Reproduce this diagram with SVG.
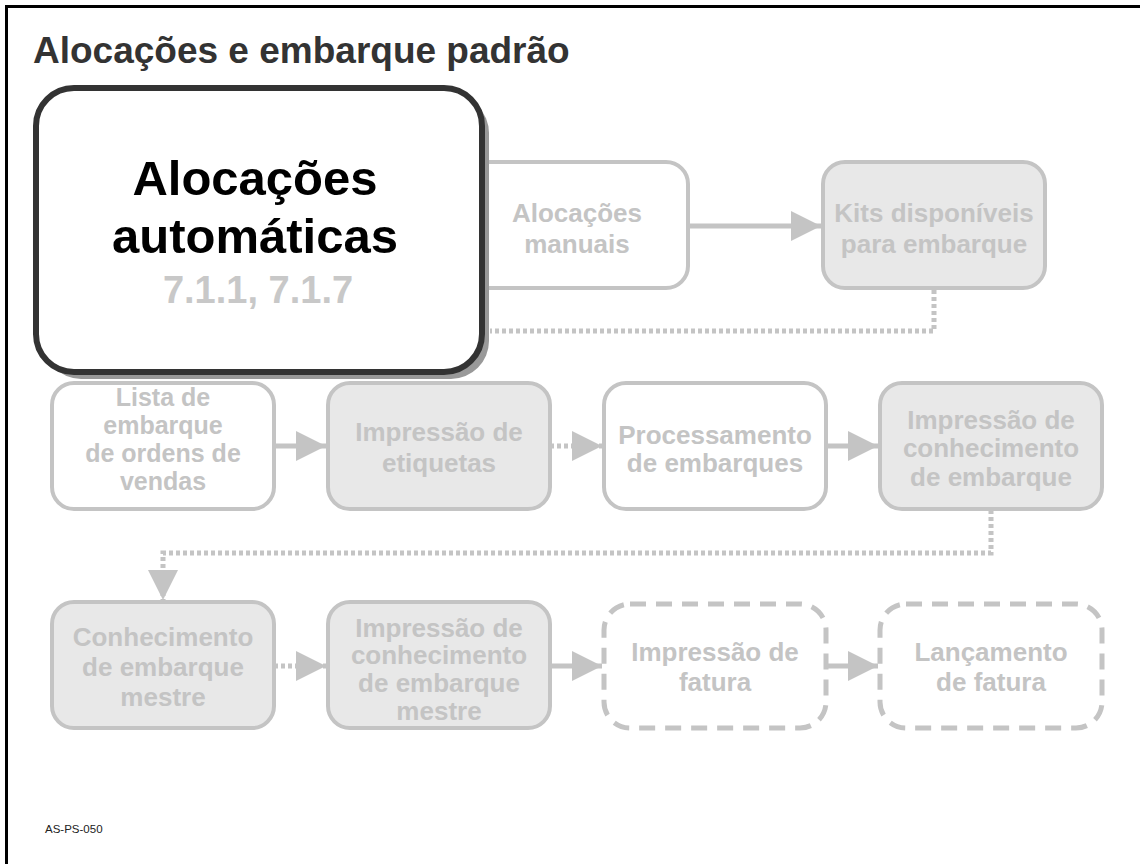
<svg xmlns="http://www.w3.org/2000/svg" width="1140" height="864" viewBox="0 0 1140 864">
<style>
.box{stroke:#c4c4c4;stroke-width:4;fill:#fff}
.gbox{stroke:#c4c4c4;stroke-width:4;fill:#e8e8e8}
.dbox{stroke:#c4c4c4;stroke-width:5;fill:#fff;stroke-dasharray:16 10}
.t{font-family:"Liberation Sans",Arial,sans-serif;font-weight:bold;font-size:26px;fill:#c4c4c4;text-anchor:middle}
.s{font-size:25px}
.c{stroke:#c4c4c4;stroke-width:5;fill:none}
.d{stroke:#c4c4c4;stroke-width:5;fill:none;stroke-dasharray:4 3}
</style>
<defs>
<marker id="ah" markerWidth="6" markerHeight="6" viewBox="0 0 10 10" refX="10" refY="5" orient="auto" markerUnits="strokeWidth">
<path d="M0,0 L10,5 L0,10 Z" fill="#c4c4c4"/>
</marker>
</defs>
<rect width="1140" height="864" fill="#fff"/>
<path d="M6.5,864 V6.5 H1140" stroke="#000" stroke-width="3" fill="none"/>
<text x="33" y="63" font-family="Liberation Sans,Arial,sans-serif" font-weight="bold" font-size="37" fill="#333">Alocações e embarque padrão</text>

<g id="connectors">
<path class="c" d="M688,226 H821" marker-end="url(#ah)"/>
<path class="d" d="M934,290 V331 H490"/>
<path class="c" d="M274,446 H326" marker-end="url(#ah)"/>
<path class="d" d="M550,446 H602" marker-end="url(#ah)"/>
<path class="c" d="M826,446 H878" marker-end="url(#ah)"/>
<path class="d" d="M991,510 V553 H163 V600" marker-end="url(#ah)"/>
<path class="d" d="M274,666 H326" marker-end="url(#ah)"/>
<path class="c" d="M550,666 H602" marker-end="url(#ah)"/>
<path class="c" d="M826,666 H878" marker-end="url(#ah)"/>
</g>

<g id="n-manuais">
<rect class="box" x="466" y="162" width="222" height="126" rx="22"/>
<text class="t" x="577" y="222">Alocações</text>
<text class="t" x="577" y="253">manuais</text>
</g>
<g id="n-kits">
<rect class="gbox" x="823" y="162" width="222" height="126" rx="22"/>
<text class="t" x="934" y="222">Kits disponíveis</text>
<text class="t" x="934" y="253">para embarque</text>
</g>

<g id="n-auto">
<rect x="43" y="95" width="446" height="284" rx="38" fill="#999"/>
<rect x="36" y="88" width="446" height="284" rx="38" fill="#fff" stroke="#333" stroke-width="6"/>
<text x="255" y="195" font-family="Liberation Sans,Arial,sans-serif" font-weight="bold" font-size="49" fill="#000" text-anchor="middle">Alocações</text>
<text x="255" y="253" font-family="Liberation Sans,Arial,sans-serif" font-weight="bold" font-size="49" fill="#000" text-anchor="middle">automáticas</text>
<text x="258" y="303" font-family="Liberation Sans,Arial,sans-serif" font-weight="bold" font-size="38" fill="#c8c8c8" text-anchor="middle">7.1.1, 7.1.7</text>
</g>

<g id="n-lista">
<rect class="box" x="52" y="383" width="222" height="126" rx="22"/>
<text class="t s" x="163" y="406">Lista de</text>
<text class="t s" x="163" y="434">embarque</text>
<text class="t s" x="163" y="462">de ordens de</text>
<text class="t s" x="163" y="490">vendas</text>
</g>
<g id="n-etiquetas">
<rect class="gbox" x="328" y="383" width="222" height="126" rx="22"/>
<text class="t" x="439" y="441">Impressão de</text>
<text class="t" x="439" y="472">etiquetas</text>
</g>
<g id="n-proc">
<rect class="box" x="604" y="383" width="222" height="126" rx="22"/>
<text class="t" x="715" y="444">Processamento</text>
<text class="t" x="715" y="472">de embarques</text>
</g>
<g id="n-conh">
<rect class="gbox" x="880" y="383" width="222" height="126" rx="22"/>
<text class="t" x="991" y="429">Impressão de</text>
<text class="t" x="991" y="457">conhecimento</text>
<text class="t" x="991" y="486">de embarque</text>
</g>

<g id="n-mestre">
<rect class="gbox" x="52" y="602" width="222" height="126" rx="22"/>
<text class="t" x="163" y="646">Conhecimento</text>
<text class="t" x="163" y="676">de embarque</text>
<text class="t" x="163" y="706">mestre</text>
</g>
<g id="n-imp-mestre">
<rect class="gbox" x="328" y="602" width="222" height="126" rx="22"/>
<text class="t" x="439" y="637">Impressão de</text>
<text class="t" x="439" y="664">conhecimento</text>
<text class="t" x="439" y="692">de embarque</text>
<text class="t" x="439" y="720">mestre</text>
</g>
<g id="n-fatura">
<rect class="dbox" x="604" y="604" width="222" height="124" rx="26"/>
<text class="t" x="715" y="661">Impressão de</text>
<text class="t" x="715" y="691">fatura</text>
</g>
<g id="n-lanc">
<rect class="dbox" x="880" y="604" width="222" height="124" rx="26"/>
<text class="t" x="991" y="661">Lançamento</text>
<text class="t" x="991" y="691">de fatura</text>
</g>

<text x="45" y="833" font-family="Liberation Sans,Arial,sans-serif" font-size="11.5" fill="#222">AS-PS-050</text>
</svg>
